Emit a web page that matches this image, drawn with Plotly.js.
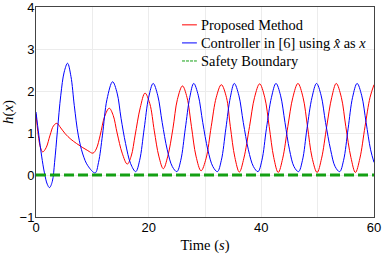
<!DOCTYPE html>
<html>
<head>
<meta charset="utf-8">
<script src="https://cdn.plot.ly/plotly-3.0.1.min.js"></script>
<style>html,body{margin:0;padding:0;background:#fff;}#chart{width:382px;height:254px;}</style>
</head>
<body>
<div id="chart"></div>
<script>
// Proposed Method (red)
const redT = [0,0.4,0.8,1.2,1.8,2.5,3.1,3.7,4.4,5.2,6.2,7.2,8.2,9.2,10.1,10.7,11.4,12.2,13.0,13.7,14.4,15.3,16.2,16.9,17.6,18.5,19.35,20.2,21.0,21.8,22.6,23.4,24.3,25.1,26.0,26.8,27.6,28.4,29.3,30.2,31.1,32.0,32.9,33.8,34.5,35.3,36.1,36.9,37.9,38.8,39.7,40.6,41.4,42.2,43.0,43.8,44.7,45.6,46.5,47.4,48.2,49.0,49.9,50.7,51.6,52.5,53.3,54.2,55.0,55.9,56.7,57.5,58.4,59.3,60.0];
const redH = [1.45,0.95,0.65,0.55,0.65,0.95,1.17,1.23,1.12,0.98,0.85,0.75,0.66,0.58,0.52,0.62,0.95,1.4,1.59,1.42,1.0,0.52,0.26,0.45,0.95,1.6,1.95,1.7,1.05,0.45,0.15,0.45,1.1,1.8,2.12,1.85,1.15,0.45,0.1,0.4,1.15,1.85,2.15,1.85,1.15,0.42,0.07,0.4,1.15,1.85,2.17,1.85,1.15,0.42,0.06,0.4,1.15,1.85,2.18,1.85,1.15,0.42,0.06,0.4,1.15,1.85,2.18,1.85,1.15,0.42,0.06,0.4,1.15,1.85,2.15];
// Controller in [6] (blue)
const blueT = [0,0.5,1.0,1.5,2.0,2.4,2.9,3.3,3.8,4.4,5.0,5.6,6.2,6.8,7.5,8.3,9.2,10.5,11.1,11.8,12.6,13.6,14.4,15.1,15.9,16.8,17.7,18.4,19.2,20.0,20.8,21.6,22.4,23.3,24.2,25.0,25.7,26.5,27.3,28.0,28.8,29.6,30.5,31.4,32.2,32.9,33.7,34.5,35.2,36.0,36.8,37.7,38.6,39.4,40.1,40.9,41.8,42.6,43.4,44.2,45.0,45.8,46.6,47.3,48.1,49.0,49.8,50.6,51.4,52.3,53.1,53.9,54.6,55.4,56.2,57.0,57.8,58.6,59.4,60.0];
const blueH = [1.5,0.95,0.45,0.05,-0.22,-0.3,-0.15,0.3,1.05,1.9,2.45,2.66,2.35,1.65,0.95,0.5,0.22,0.05,0.3,0.95,1.8,2.22,1.95,1.35,0.75,0.27,0.08,0.35,1.1,1.85,2.18,1.9,1.25,0.6,0.2,0.08,0.35,1.1,1.85,2.18,1.9,1.25,0.6,0.2,0.08,0.35,1.1,1.85,2.18,1.9,1.25,0.6,0.2,0.08,0.35,1.1,1.85,2.18,1.9,1.25,0.6,0.2,0.08,0.35,1.1,1.85,2.18,1.9,1.25,0.6,0.2,0.08,0.35,1.1,1.85,2.18,1.9,1.25,0.6,0.3];
// Safety boundary
const safeT = [0, 60];
const safeH = [0, 0];
const xTickVals = [0,10,20,30,40,50,60];
const xTickText = ['0','','20','','40','','60'];
const yTickVals = [-1,0,1,2,3,4];
const legendNames = ['Proposed Method', 'Controller in [6] using <i>x&#770;</i> as <i>x</i>', 'Safety Boundary'];
const legendColors = ['rgb(255,0,0)', 'rgb(0,0,255)', 'rgb(20,160,20)'];

const serif = 'Liberation Serif, Times New Roman, serif';
const sans = 'Liberation Sans, Arial, sans-serif';

const traces = [
  {x: redT, y: redH, type: 'scatter', mode: 'lines', name: legendNames[0], showlegend: false,
   line: {color: legendColors[0], width: 1, shape: 'spline', smoothing: 1}},
  {x: blueT, y: blueH, type: 'scatter', mode: 'lines', name: legendNames[1], showlegend: false,
   line: {color: legendColors[1], width: 1, shape: 'spline', smoothing: 1}},
  {x: safeT, y: safeH, type: 'scatter', mode: 'lines', name: legendNames[2], showlegend: false,
   line: {color: legendColors[2], width: 3, dash: '10px,4px'}}
];

// hand-placed legend (short line samples, tight spacing as in the reference)
const legY = [0.915, 0.829, 0.743];
const shapes = [];
const annotations = [];
for (let i = 0; i < 3; i++) {
  shapes.push({type: 'line', xref: 'paper', yref: 'paper', x0: 0.432, x1: 0.476, y0: legY[i], y1: legY[i],
               line: {color: legendColors[i], width: 1, dash: i === 2 ? '3px,1px' : 'solid'}});
  annotations.push({xref: 'paper', yref: 'paper', x: 0.483, y: legY[i], xanchor: 'left', yanchor: 'middle',
                    showarrow: false, text: legendNames[i], font: {family: serif, size: 14.4, color: '#000'}});
}

const layout = {
  width: 382, height: 254,
  margin: {l: 36, r: 8, t: 7, b: 37},
  paper_bgcolor: '#fff', plot_bgcolor: '#fff',
  showlegend: false,
  shapes: shapes,
  annotations: annotations,
  xaxis: {range: [0, 60], tickvals: xTickVals, ticktext: xTickText, showgrid: true, gridcolor: '#ececec',
          zeroline: false, showline: true, linecolor: '#444', linewidth: 1, mirror: true, ticks: '',
          ticklabelstandoff: -2, ticklabeloverflow: 'allow',
          tickfont: {family: sans, size: 13, color: '#000'},
          title: {text: 'Time (<i>s</i>)', font: {family: serif, size: 14.5, color: '#000'}, standoff: 7}},
  yaxis: {range: [-1, 4], tickvals: yTickVals, showgrid: true, gridcolor: '#ececec',
          zeroline: false, showline: true, linecolor: '#444', linewidth: 1, mirror: true, ticks: '',
          ticklabelstandoff: -2, ticklabeloverflow: 'allow',
          tickfont: {family: sans, size: 13, color: '#000'},
          title: {text: '<i>h</i>(<i>x</i>)', font: {family: serif, size: 15, color: '#000'}, standoff: 6}}
};

Plotly.newPlot('chart', traces, layout, {displayModeBar: false, staticPlot: true});
</script>
</body>
</html>
